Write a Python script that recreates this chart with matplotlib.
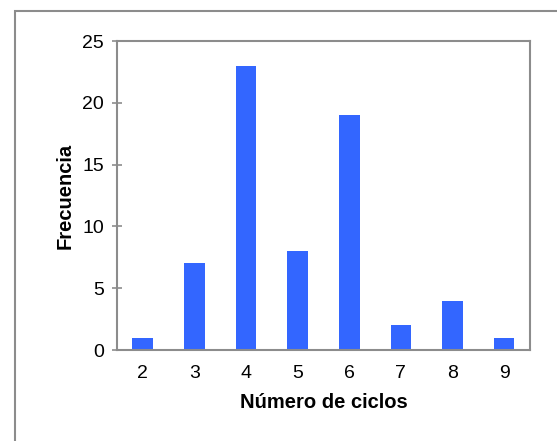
import matplotlib
matplotlib.use("Agg")
import matplotlib.pyplot as plt
from matplotlib.patches import Rectangle

ciclos = [2, 3, 4, 5, 6, 7, 8, 9]
frecuencia = [1, 7, 23, 8, 19, 2, 4, 1]

plt.rcParams["font.family"] = ["Liberation Sans", "DejaVu Sans"]

fig = plt.figure(figsize=(5.57, 4.41), dpi=100)
ax = fig.add_axes([0.210, 0.2063, 0.7415, 0.7007])

# outer chart border
fig.patches.append(Rectangle((15 / 557, -0.1), 1.2, 1 - 11 / 441 + 0.1,
                             transform=fig.transFigure, fill=False,
                             edgecolor="#8c8c8c", linewidth=1.5))

ax.bar(ciclos, frecuencia, width=0.4, color="#3366FF")
ax.set_xlim(1.5, 9.5)
ax.set_ylim(0, 25)
ax.set_yticks([0, 5, 10, 15, 20, 25])
ax.set_xticks(ciclos)

for s in ax.spines.values():
    s.set_color("#8c8c8c")
    s.set_linewidth(1.5)

ax.tick_params(axis="y", direction="inout", length=7, color="#8c8c8c", width=1.2,
               labelsize=14, pad=6)
ax.tick_params(axis="x", length=0, labelsize=14, pad=11)

ax.set_xlabel("Número de ciclos", fontsize=14.5, fontweight="bold", labelpad=8)
ax.set_ylabel("Frecuencia", fontsize=14.5, fontweight="bold", labelpad=5)

fig.savefig("out.png", dpi=100)
